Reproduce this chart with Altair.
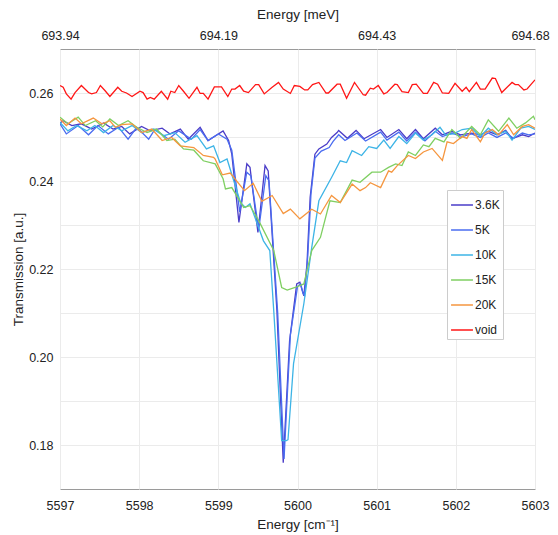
import altair as alt
import pandas as pd

# ---------------- data ----------------
names = ["3.6K", "5K", "10K", "15K", "20K", "void"]
colors = ["#4a3cc8", "#4a6cf0", "#3db4e6", "#7fcf62", "#f5963f", "#ff1616"]

x_36 = [5597.00, 5597.04, 5597.15, 5597.27, 5597.40, 5597.55, 5597.67, 5597.78, 5597.88, 5598.03,
        5598.14, 5598.29, 5598.39, 5598.52, 5598.62, 5598.77, 5598.87, 5599.06, 5599.13, 5599.17,
        5599.26, 5599.36, 5599.40, 5599.50, 5599.59, 5599.63, 5599.74, 5599.82, 5599.90, 5599.99,
        5600.03, 5600.06, 5600.08, 5600.12, 5600.16, 5600.22, 5600.27, 5600.37, 5600.43, 5600.50,
        5600.52, 5600.63, 5600.74, 5600.84, 5601.05, 5601.13, 5601.28, 5601.38, 5601.49, 5601.59,
        5601.74, 5601.83, 5601.95, 5602.06, 5602.20, 5602.31, 5602.41, 5602.52, 5602.63, 5602.71,
        5602.84, 5602.92, 5603.00]
y_36 = [0.2532, 0.2537, 0.2526, 0.2530, 0.2518, 0.2532, 0.2518, 0.2524, 0.2507, 0.2524,
        0.2514, 0.2520, 0.2507, 0.2518, 0.2495, 0.2522, 0.2492, 0.2514, 0.2492, 0.2461,
        0.2306, 0.2439, 0.2431, 0.2283, 0.2435, 0.2423, 0.2105, 0.1760, 0.2037, 0.2166,
        0.2170, 0.2151, 0.2139, 0.2212, 0.2363, 0.2461, 0.2473, 0.2484, 0.2499, 0.2510,
        0.2515, 0.2497, 0.2515, 0.2496, 0.2517, 0.2499, 0.2517, 0.2496, 0.2517, 0.2496,
        0.2520, 0.2505, 0.2513, 0.2505, 0.2509, 0.2505, 0.2513, 0.2505, 0.2515, 0.2496,
        0.2505, 0.2501, 0.2509]

x_5 = [5597.00, 5597.08, 5597.23, 5597.36, 5597.48, 5597.61, 5597.74, 5597.86, 5597.97, 5598.12,
       5598.20, 5598.37, 5598.50, 5598.66, 5598.77, 5598.87, 5599.00, 5599.11, 5599.17, 5599.27,
       5599.36, 5599.41, 5599.51, 5599.60, 5599.64, 5599.75, 5599.83, 5599.91, 5600.00, 5600.04,
       5600.07, 5600.09, 5600.13, 5600.17, 5600.22, 5600.30, 5600.40, 5600.45, 5600.52, 5600.60,
       5600.75, 5600.86, 5601.05, 5601.13, 5601.28, 5601.38, 5601.49, 5601.61, 5601.74, 5601.83,
       5601.95, 5602.08, 5602.20, 5602.31, 5602.41, 5602.52, 5602.63, 5602.73, 5602.84, 5602.92,
       5603.00]
y_5 = [0.2530, 0.2507, 0.2526, 0.2505, 0.2526, 0.2507, 0.2522, 0.2495, 0.2522, 0.2495,
       0.2518, 0.2495, 0.2514, 0.2495, 0.2517, 0.2492, 0.2507, 0.2495, 0.2470, 0.2330,
       0.2420, 0.2412, 0.2290, 0.2412, 0.2400, 0.2100, 0.1768, 0.2050, 0.2160, 0.2166,
       0.2145, 0.2140, 0.2230, 0.2370, 0.2452, 0.2468, 0.2476, 0.2490, 0.2505, 0.2492,
       0.2509, 0.2491, 0.2511, 0.2493, 0.2511, 0.2491, 0.2511, 0.2491, 0.2513, 0.2501,
       0.2509, 0.2501, 0.2507, 0.2499, 0.2509, 0.2499, 0.2509, 0.2497, 0.2509, 0.2505,
       0.2507]

x_10 = [5597.00, 5597.10, 5597.21, 5597.34, 5597.44, 5597.55, 5597.67, 5597.78, 5597.91, 5598.03,
        5598.18, 5598.31, 5598.45, 5598.58, 5598.73, 5598.85, 5598.94, 5599.02, 5599.11, 5599.28,
        5599.34, 5599.40, 5599.57, 5599.65, 5599.70, 5599.80, 5599.86, 5599.88, 5599.95, 5600.08,
        5600.18, 5600.27, 5600.43, 5600.54, 5600.62, 5600.69, 5600.81, 5600.90, 5601.00, 5601.09,
        5601.17, 5601.28, 5601.38, 5601.49, 5601.59, 5601.70, 5601.80, 5601.87, 5601.97, 5602.08,
        5602.20, 5602.31, 5602.41, 5602.52, 5602.63, 5602.71, 5602.82, 5602.92, 5603.00]
y_10 = [0.2533, 0.2514, 0.2526, 0.2514, 0.2526, 0.2510, 0.2526, 0.2514, 0.2526, 0.2510,
        0.2518, 0.2503, 0.2510, 0.2488, 0.2503, 0.2473, 0.2480, 0.2442, 0.2450, 0.2351,
        0.2340, 0.2348, 0.2264, 0.2242, 0.2105, 0.1810, 0.1810, 0.1812, 0.1985, 0.2121,
        0.2249, 0.2355, 0.2408, 0.2446, 0.2442, 0.2469, 0.2458, 0.2478, 0.2474, 0.2493,
        0.2474, 0.2501, 0.2485, 0.2509, 0.2493, 0.2505, 0.2522, 0.2505, 0.2507, 0.2517,
        0.2520, 0.2501, 0.2520, 0.2505, 0.2513, 0.2493, 0.2520, 0.2524, 0.2517]

x_15 = [5597.00, 5597.10, 5597.23, 5597.32, 5597.45, 5597.54, 5597.63, 5597.74, 5597.86, 5597.97,
        5598.10, 5598.22, 5598.35, 5598.45, 5598.56, 5598.69, 5598.81, 5598.96, 5599.06, 5599.09,
        5599.17, 5599.32, 5599.40, 5599.51, 5599.70, 5599.80, 5599.87, 5599.97, 5600.08, 5600.18,
        5600.29, 5600.41, 5600.54, 5600.69, 5600.79, 5600.94, 5601.05, 5601.15, 5601.24, 5601.32,
        5601.40, 5601.49, 5601.59, 5601.66, 5601.74, 5601.85, 5601.95, 5602.06, 5602.20, 5602.31,
        5602.41, 5602.54, 5602.67, 5602.77, 5602.88, 5602.98, 5603.00]
y_15 = [0.2545, 0.2530, 0.2545, 0.2526, 0.2537, 0.2523, 0.2541, 0.2526, 0.2537, 0.2522,
        0.2510, 0.2518, 0.2492, 0.2495, 0.2473, 0.2470, 0.2446, 0.2439, 0.2405, 0.2382,
        0.2385, 0.2340, 0.2344, 0.2310, 0.2242, 0.2158, 0.2152, 0.2158, 0.2166, 0.2242,
        0.2272, 0.2355, 0.2351, 0.2402, 0.2397, 0.2420, 0.2420, 0.2431, 0.2439, 0.2435,
        0.2466, 0.2458, 0.2482, 0.2478, 0.2497, 0.2489, 0.2517, 0.2497, 0.2524, 0.2505,
        0.2539, 0.2513, 0.2543, 0.2520, 0.2532, 0.2547, 0.2539]

x_20 = [5597.00, 5597.08, 5597.19, 5597.27, 5597.42, 5597.53, 5597.63, 5597.70, 5597.78, 5597.91,
        5598.03, 5598.16, 5598.29, 5598.41, 5598.52, 5598.69, 5598.81, 5598.94, 5598.96, 5599.05,
        5599.15, 5599.33, 5599.44, 5599.55, 5599.68, 5599.82, 5599.91, 5600.03, 5600.18, 5600.29,
        5600.43, 5600.54, 5600.69, 5600.79, 5600.86, 5600.92, 5601.05, 5601.15, 5601.19, 5601.26,
        5601.40, 5601.49, 5601.59, 5601.70, 5601.83, 5601.89, 5601.97, 5602.08, 5602.14, 5602.20,
        5602.31, 5602.37, 5602.46, 5602.54, 5602.65, 5602.73, 5602.84, 5602.92, 5603.00]
y_20 = [0.2541, 0.2526, 0.2543, 0.2530, 0.2543, 0.2530, 0.2537, 0.2522, 0.2528, 0.2530,
        0.2510, 0.2518, 0.2492, 0.2499, 0.2480, 0.2476, 0.2458, 0.2454, 0.2450, 0.2414,
        0.2418, 0.2378, 0.2395, 0.2354, 0.2367, 0.2326, 0.2336, 0.2314, 0.2336, 0.2325,
        0.2367, 0.2351, 0.2393, 0.2378, 0.2385, 0.2396, 0.2385, 0.2423, 0.2420, 0.2435,
        0.2458, 0.2451, 0.2466, 0.2474, 0.2447, 0.2489, 0.2485, 0.2501, 0.2497, 0.2517,
        0.2489, 0.2509, 0.2517, 0.2505, 0.2528, 0.2505, 0.2524, 0.2528, 0.2520]

x_void = [5597.00, 5597.04, 5597.08, 5597.14, 5597.19, 5597.27, 5597.36, 5597.40, 5597.46, 5597.51,
          5597.57, 5597.63, 5597.73, 5597.78, 5597.84, 5597.91, 5598.01, 5598.05, 5598.10, 5598.14,
          5598.19, 5598.28, 5598.36, 5598.40, 5598.45, 5598.50, 5598.56, 5598.63, 5598.73, 5598.77,
          5598.81, 5598.87, 5598.95, 5599.04, 5599.12, 5599.17, 5599.21, 5599.27, 5599.32, 5599.38,
          5599.47, 5599.51, 5599.58, 5599.68, 5599.76, 5599.82, 5599.91, 5599.96, 5600.03, 5600.09,
          5600.13, 5600.19, 5600.27, 5600.36, 5600.39, 5600.50, 5600.54, 5600.62, 5600.72, 5600.83,
          5600.86, 5600.92, 5600.96, 5601.02, 5601.09, 5601.13, 5601.23, 5601.26, 5601.32, 5601.40,
          5601.45, 5601.50, 5601.59, 5601.64, 5601.72, 5601.77, 5601.83, 5601.91, 5601.99, 5602.08,
          5602.13, 5602.17, 5602.26, 5602.31, 5602.37, 5602.46, 5602.50, 5602.58, 5602.71, 5602.75,
          5602.79, 5602.86, 5602.90, 5603.00]
y_void = [0.2617, 0.2613, 0.2598, 0.2586, 0.2601, 0.2617, 0.2601, 0.2598, 0.2601, 0.2617,
          0.2605, 0.2592, 0.2613, 0.2604, 0.2600, 0.2592, 0.2604, 0.2601, 0.2586, 0.2590,
          0.2586, 0.2604, 0.2586, 0.2604, 0.2601, 0.2617, 0.2604, 0.2588, 0.2613, 0.2599,
          0.2599, 0.2586, 0.2614, 0.2614, 0.2592, 0.2609, 0.2609, 0.2617, 0.2604, 0.2601,
          0.2619, 0.2619, 0.2598, 0.2613, 0.2624, 0.2609, 0.2599, 0.2617, 0.2615, 0.2607,
          0.2607, 0.2619, 0.2624, 0.2600, 0.2600, 0.2620, 0.2620, 0.2588, 0.2624, 0.2596,
          0.2595, 0.2611, 0.2609, 0.2617, 0.2598, 0.2601, 0.2620, 0.2619, 0.2603, 0.2601,
          0.2619, 0.2620, 0.2599, 0.2599, 0.2624, 0.2620, 0.2600, 0.2599, 0.2622, 0.2604,
          0.2613, 0.2603, 0.2624, 0.2609, 0.2609, 0.2634, 0.2633, 0.2601, 0.2624, 0.2619,
          0.2619, 0.2607, 0.2609, 0.2630]

bottom_ticks = [5597, 5598, 5599, 5600, 5601, 5602, 5603]
y_ticks = [0.18, 0.19, 0.20, 0.21, 0.22, 0.23, 0.24, 0.25, 0.26]
top_ticks = [5597, 5599, 5601, 5603]
top_labels = ["693.94", "694.19", "694.43", "694.68"]

# ---------------- build table ----------------
series = [("3.6K", x_36, y_36), ("5K", x_5, y_5), ("10K", x_10, y_10),
          ("15K", x_15, y_15), ("20K", x_20, y_20), ("void", x_void, y_void)]
rows = []
for name, xs, ys in series:
    for xv, yv in zip(xs, ys):
        rows.append({"series": name, "energy": xv, "T": yv})
df = pd.DataFrame(rows)

FONT = "Liberation Sans"
xscale = alt.Scale(domain=[5597, 5603], nice=False, zero=False)
yscale = alt.Scale(domain=[0.17, 0.27], nice=False, zero=False)

top_expr = " : ".join(f"datum.value == {v} ? '{l}'" for v, l in zip(top_ticks, top_labels)) + " : ''"

lines = alt.Chart(df).mark_line(strokeWidth=1.3, clip=True).encode(
    x=alt.X("energy:Q", scale=xscale,
            axis=alt.Axis(title="Energy [cm⁻¹]", values=bottom_ticks, format="d",
                          labelFlush=False, labelPadding=10, titlePadding=6, ticks=False)),
    y=alt.Y("T:Q", scale=yscale,
            axis=alt.Axis(title="Transmission [a.u.]", values=y_ticks,
                          labelExpr="(round(datum.value*100) % 2 == 0) ? format(datum.value, '.2f') : ''",
                          labelFlush=False, labelPadding=7, titlePadding=3, ticks=False)),
    color=alt.Color("series:N", sort=names,
                    scale=alt.Scale(domain=names, range=colors),
                    legend=alt.Legend(title=None, orient="none", legendX=387, legendY=141,
                                      symbolType="stroke", symbolSize=480, symbolStrokeWidth=1.5,
                                      labelFontSize=12, rowPadding=7, padding=3, labelOffset=1,
                                      fillColor="white", strokeColor="#cccccc")),
)

top_df = pd.DataFrame({"energy": top_ticks})
top = alt.Chart(top_df).mark_point(opacity=0).encode(
    x=alt.X("energy:Q", scale=xscale,
            axis=alt.Axis(orient="top", title="Energy [meV]", values=top_ticks,
                          labelExpr=top_expr, grid=False, ticks=False, domain=False,
                          labelFlush=False, labelPadding=7, titlePadding=8,
                          labelOffset={"condition": {"test": f"datum.value == {top_ticks[-1]}", "value": -5},
                                       "value": 0})),
)

chart = alt.layer(lines, top).resolve_axis(x="independent").properties(
    width=475, height=440,
    autosize=alt.AutoSizeParams(type="none"),
    padding={"left": 52, "top": 41, "right": 15, "bottom": 44},
).configure_view(
    stroke="#9a9a9a", strokeWidth=1
).configure_axis(
    labelFont=FONT, titleFont=FONT, labelFontSize=12.5, titleFontSize=13.5,
    labelColor="#222222", titleColor="#222222", titleFontWeight="normal",
    gridColor="#ebebeb", gridWidth=1, domain=False
).configure_legend(
    labelFont=FONT, labelColor="#222222"
)

chart.save("out.html", embed_options={"renderer": "svg", "actions": False})
